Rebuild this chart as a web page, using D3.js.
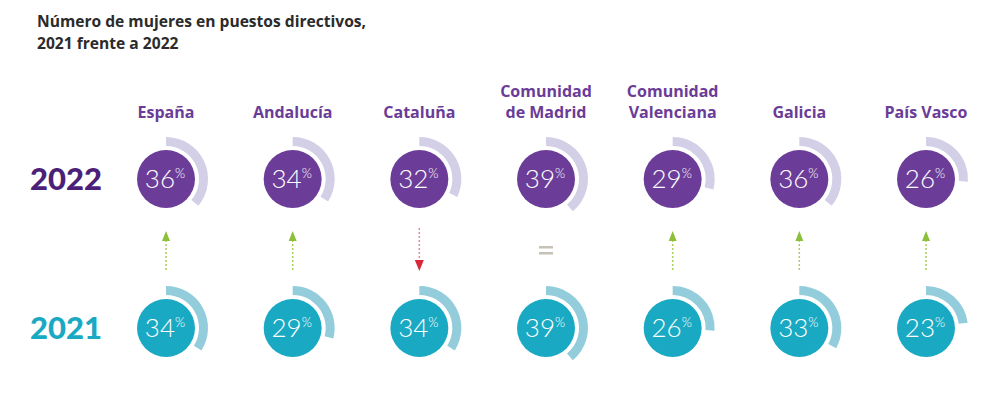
<!DOCTYPE html>
<html>
<head>
<meta charset="utf-8">
<script src="https://cdn.jsdelivr.net/npm/d3@7"></script>
<style>
  html, body { margin: 0; padding: 0; background: #fff; }
  svg { display: block; }
</style>
</head>
<body>
<svg id="chart" width="1000" height="415"></svg>
<script>
// ---- data ----
const regions = ["España", "Andalucía", "Cataluña", "Comunidad de Madrid", "Comunidad Valenciana", "Galicia", "País Vasco"];
const regionLines = [["España"], ["Andalucía"], ["Cataluña"], ["Comunidad", "de Madrid"], ["Comunidad", "Valenciana"], ["Galicia"], ["País Vasco"]];
const years = ["2022", "2021"];
const values2022 = [36, 34, 32, 39, 29, 36, 26];
const values2021 = [34, 29, 34, 39, 26, 33, 23];
const titleLines = ["Número de mujeres en puestos directivos,", "2021 frente a 2022"];

// ---- layout ----
const svg = d3.select("#chart");
const font = "'Open Sans', Lato, sans-serif";
const numFont = "Lato, 'Noto Sans', sans-serif";

const x = d3.scalePoint().domain(regions).range([166, 926]);
const y = d3.scalePoint().domain(years).range([179, 328]);

const colors = {
  "2022": { circle: "#6b3d98", ring: "#d2cfe6", label: "#4b2078" },
  "2021": { circle: "#19a9c3", ring: "#93cddc", label: "#19a9c3" }
};
const rCircle = 29, rIn = 33, rOut = 42;
const angle = d3.scaleLinear().domain([0, 100]).range([0, 2 * Math.PI]);
const arc = d3.arc().innerRadius(rIn).outerRadius(rOut);

// title
svg.append("g").selectAll("text").data(titleLines).join("text")
  .attr("x", 37).attr("y", (d, i) => 27 + i * 22)
  .attr("font-family", font).attr("font-weight", 700).attr("font-size", 15.6)
  .attr("fill", "#2b2b2b").text(d => d);

// region labels
const labelG = svg.append("g");
regions.forEach((r, i) => {
  const lines = regionLines[i];
  labelG.selectAll(null).data(lines).join("text")
    .attr("x", x(r))
    .attr("y", (d, j) => 118 - (lines.length - 1 - j) * 21)
    .attr("text-anchor", "middle")
    .attr("font-family", font).attr("font-weight", 700).attr("font-size", 16)
    .attr("fill", "#6a3c98").text(d => d);
});

// year labels
svg.append("g").selectAll("text").data(years).join("text")
  .attr("x", 66).attr("y", d => y(d) + 11)
  .attr("text-anchor", "middle")
  .attr("font-family", numFont).attr("font-weight", 900).attr("font-size", 31)
  .attr("fill", d => colors[d].label).text(d => d);

// circles
const rows = [{ year: "2022", values: values2022 }, { year: "2021", values: values2021 }];
rows.forEach(row => {
  const g = svg.append("g");
  const cells = g.selectAll("g").data(regions).join("g")
    .attr("transform", d => `translate(${x(d)},${y(row.year)})`);
  cells.append("path")
    .attr("d", (d, i) => arc({ startAngle: 0, endAngle: angle(row.values[i]) }))
    .attr("fill", colors[row.year].ring);
  cells.append("circle").attr("r", rCircle).attr("fill", colors[row.year].circle);
  const t = cells.append("text")
    .attr("text-anchor", "middle").attr("y", 9).attr("x", -1)
    .attr("font-family", numFont).attr("font-weight", 300).attr("fill", "#fff");
  t.append("tspan").attr("font-size", 26).text((d, i) => row.values[i]);
  t.append("tspan").attr("font-size", 13).attr("dy", -10).text("%");
});

// change markers
const markG = svg.append("g");
regions.forEach((r, i) => {
  const diff = values2022[i] - values2021[i];
  const cx = x(r);
  if (diff > 0) {
    markG.append("line").attr("x1", cx).attr("x2", cx).attr("y1", 240).attr("y2", 270)
      .attr("stroke", "#a9cf5a").attr("stroke-width", 1.5).attr("stroke-dasharray", "2,2");
    markG.append("path").attr("d", `M${cx - 4},${241} L${cx + 4},${241} L${cx},${231} Z`).attr("fill", "#8cbf3a");
  } else if (diff < 0) {
    markG.append("line").attr("x1", cx).attr("x2", cx).attr("y1", 228).attr("y2", 261)
      .attr("stroke", "#e88a94").attr("stroke-width", 1.5).attr("stroke-dasharray", "2,2");
    markG.append("path").attr("d", `M${cx - 4.5},${260} L${cx + 4.5},${260} L${cx},${271} Z`).attr("fill", "#d9283a");
  } else {
    markG.append("rect").attr("x", cx - 7).attr("y", 246).attr("width", 14).attr("height", 2.5).attr("fill", "#c7c2b8");
    markG.append("rect").attr("x", cx - 7).attr("y", 252).attr("width", 14).attr("height", 2.5).attr("fill", "#c7c2b8");
  }
});
</script>
</body>
</html>
